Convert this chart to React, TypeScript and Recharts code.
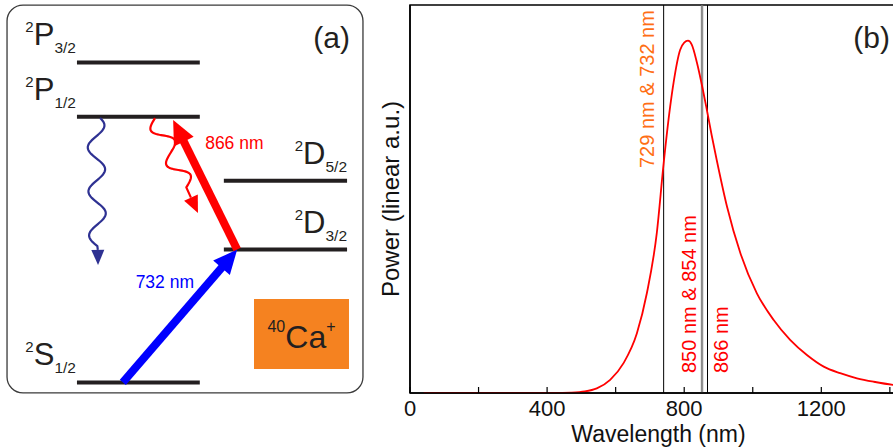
import { ComposedChart, Line, LineChart, ReferenceArea, ReferenceLine, XAxis, YAxis } from "recharts";

const FONT = '"Liberation Sans", Arial, Helvetica, sans-serif';
const INK = "#231F20";

// ---------- (a) level scheme of 40Ca+, schematic energy units ----------
const levelLetters = ["S", "D", "D", "P", "P"];
const levelJ = ["1/2", "3/2", "5/2", "1/2", "3/2"];
const levelEnergy = [0.05, 4.2, 6.35, 8.35, 10.05];
const levelColumn = ["left", "right", "right", "left", "left"];

// laser drives (thick arrows)
const laserLabels = ["732 nm", "866 nm"];
const laserFrom = [[3.32, 0.05], [6.41, 4.2]];
const laserTo = [[6.41, 4.2], [4.68, 8.25]];

// spontaneous decays (wavy arrows)
const decayFrom = [[2.59, 8.31], [4.19, 8.31]];
const decayTo = [[2.65, 3.72], [5.35, 5.34]];

// ---------- (b) spectrum ----------
const wavelength = [40, 150, 300, 420, 470, 510, 545, 584, 623, 662, 691, 720, 740, 759, 769, 788, 800, 811, 822, 837, 853, 866, 880, 895, 925, 964, 1012, 1061, 1109, 1158, 1207, 1255, 1304, 1353, 1410, 1450];
const power = [0, 0, 0, 0, 0.001, 0.004, 0.012, 0.034, 0.077, 0.154, 0.257, 0.412, 0.592, 0.738, 0.8, 0.884, 0.903, 0.908, 0.898, 0.852, 0.788, 0.73, 0.665, 0.6, 0.48, 0.36, 0.257, 0.188, 0.137, 0.098, 0.068, 0.051, 0.038, 0.029, 0.021, 0.018];
const xTicks = [0, 200, 400, 600, 800, 1000, 1200, 1400];
const markerNm = [740, 850, 854, 868];
const markerLabels = ["729 nm & 732 nm", "850 nm & 854 nm", "", "866 nm"];

const spectrum = wavelength.map((wl, i) => ({ wl, power: power[i] }));
const levelRows = levelEnergy.map((e, i) => ({ x: levelColumn[i] === "left" ? 3.7 : 7.7, e }));

const columnSpan: Record<string, [number, number]> = { left: [2.08, 5.4], right: [6.05, 9.38] };
const laserColors = ["#0000FF", "#FF0000"];
const laserText = [
  { dx: 14, dy: -28, anchor: "end" },
  { dx: 0, dy: -36, anchor: "start" },
];
const decayStyle = [
  { color: "#2E3192", amp: 8.5, period: 44, wave: 128.3, phase: Math.PI / 6, head: 15, hw: 6.5 },
  { color: "#FF0000", amp: 9, period: 38, wave: 76, phase: Math.PI, head: 17, hw: 7.5 },
];

const unit = (x1: number, y1: number, x2: number, y2: number) => {
  const L = Math.hypot(x2 - x1, y2 - y1);
  return { L, ux: (x2 - x1) / L, uy: (y2 - y1) / L };
};

const levelShape = (i: number) => (p: any) => {
  const { x1, y1, x2 } = p;
  const right = levelColumn[i] === "right";
  const tx = right ? Math.max(x1, x2) : Math.min(x1, x2) - 1;
  return (
    <g>
      <line x1={x1} y1={y1} x2={x2} y2={y1} stroke={INK} strokeWidth={4} />
      <text x={tx} y={y1 - 17} textAnchor="end" fill={INK}>
        <tspan fontSize={15} dy={-13}>2</tspan>
        <tspan fontSize={31} dy={13}>{levelLetters[i]}</tspan>
        <tspan fontSize={15.5} dy={8}>{levelJ[i]}</tspan>
      </text>
    </g>
  );
};

const laserShape = (i: number) => (p: any) => {
  const { x1, y1, x2, y2 } = p;
  const { ux, uy } = unit(x1, y1, x2, y2);
  const nx = uy, ny = -ux;
  const head = 24, hw = 11;
  const bx = x2 - ux * head, by = y2 - uy * head;
  const t = laserText[i];
  return (
    <g>
      <line x1={x1} y1={y1} x2={bx + ux} y2={by + uy} stroke={laserColors[i]} strokeWidth={8} />
      <polygon points={`${x2},${y2} ${bx + nx * hw},${by + ny * hw} ${bx - nx * hw},${by - ny * hw}`} fill={laserColors[i]} />
      <text x={(x1 + x2) / 2 + t.dx} y={(y1 + y2) / 2 + t.dy} textAnchor={t.anchor as any} fill={laserColors[i]} fontSize={17.5}>
        {laserLabels[i]}
      </text>
    </g>
  );
};

const decayShape = (i: number) => (p: any) => {
  const { x1, y1, x2, y2 } = p;
  const s = decayStyle[i];
  const { ux, uy } = unit(x1, y1, x2, y2);
  const nx = uy, ny = -ux;
  let d = "";
  for (let k = 0; k <= s.wave; k += 1) {
    const o = s.amp * Math.sin((2 * Math.PI * k) / s.period + s.phase);
    d += `${k === 0 ? "M" : "L"}${(x1 + ux * k + nx * o).toFixed(2)},${(y1 + uy * k + ny * o).toFixed(2)}`;
  }
  const bx = x2 - ux * s.head, by = y2 - uy * s.head;
  d += `L${bx.toFixed(2)},${by.toFixed(2)}`;
  return (
    <g>
      <path d={d} fill="none" stroke={s.color} strokeWidth={2.2} strokeLinejoin="round" />
      <polygon points={`${x2},${y2} ${bx + nx * s.hw},${by + ny * s.hw} ${bx - nx * s.hw},${by - ny * s.hw}`} fill={s.color} />
    </g>
  );
};

const frameA = (p: any) => (
  <g>
    <rect x={p.x} y={p.y} width={p.width} height={p.height} rx={16} fill="#fff" stroke="#3a3a3a" strokeWidth={1.3} />
    <text x={p.x + p.width - 13} y={p.y + 43} textAnchor="end" fontSize={30} fill={INK}>(a)</text>
  </g>
);

const ionBox = (p: any) => (
  <g>
    <rect x={p.x} y={p.y} width={p.width} height={p.height} fill="#F58220" />
    <text x={p.x + p.width / 2} y={p.y + p.height / 2 + 14} textAnchor="middle" fill={INK}>
      <tspan fontSize={16} dy={-16}>40</tspan>
      <tspan fontSize={32} dy={16}>Ca</tspan>
      <tspan fontSize={16} dy={-16}>+</tspan>
    </text>
  </g>
);

const frameB = (p: any) => (
  <g>
    <rect x={p.x} y={p.y} width={p.width} height={p.height} fill="none" stroke="#000" strokeWidth={1.5} />
    <text x={p.x + p.width - 17} y={p.y + 43} textAnchor="end" fontSize={30} fill={INK}>(b)</text>
  </g>
);

const WaveTick = (props: any) => {
  const { x, y, payload } = props;
  return (
    <g>
      <line x1={x} y1={y} x2={x} y2={y - 6} stroke="#000" strokeWidth={1.2} />
      {payload.value % 400 === 0 && (
        <text x={x} y={y + 23} textAnchor="middle" fontSize={22} fill="#111">
          {payload.value}
        </text>
      )}
    </g>
  );
};

const markerStyle = [
  { stroke: "#000", width: 1, color: "#FF6E14", dx: -10, fromTop: 163 },
  { stroke: "#777", width: 1, color: "#FF0000", dx: -5, fromTop: null },
  { stroke: "#777", width: 1, color: "#FF0000", dx: 0, fromTop: null },
  { stroke: "#000", width: 1, color: "#FF0000", dx: 20, fromTop: null },
];

const markerLabel = (i: number) => ({ viewBox }: any) => {
  const m = markerStyle[i];
  if (!markerLabels[i]) return null;
  const x = viewBox.x + m.dx;
  const y = m.fromTop !== null ? viewBox.y + m.fromTop : viewBox.y + viewBox.height - 20;
  return (
    <text transform={`translate(${x},${y}) rotate(-90)`} textAnchor="start" fontSize={20} fill={m.color}>
      {markerLabels[i]}
    </text>
  );
};

export default function App() {
  return (
    <div style={{ position: "absolute", left: 0, top: 0, width: 893, height: 448, overflow: "hidden", background: "#fff", fontFamily: FONT }}>
      <div style={{ position: "absolute", left: 0, top: 0 }}>
        <ComposedChart width={370} height={448} data={levelRows} margin={{ top: 0, right: 0, bottom: 0, left: 0 }}>
          <XAxis type="number" dataKey="x" domain={[0, 10]} hide allowDataOverflow />
          <YAxis type="number" dataKey="e" domain={[-2, 12]} hide allowDataOverflow />
          <ReferenceArea x1={0.19} x2={9.81} y1={-0.28} y2={11.84} shape={frameA} />
          <ReferenceArea x1={6.865} x2={9.432} y1={0.469} y2={2.656} shape={ionBox} />
          {levelEnergy.map((e, i) => (
            <ReferenceLine
              key={`lv${i}`}
              segment={[
                { x: columnSpan[levelColumn[i]][0], y: e },
                { x: columnSpan[levelColumn[i]][1], y: e },
              ]}
              shape={levelShape(i)}
            />
          ))}
          {decayFrom.map((f, i) => (
            <ReferenceLine
              key={`dc${i}`}
              segment={[
                { x: f[0], y: f[1] },
                { x: decayTo[i][0], y: decayTo[i][1] },
              ]}
              shape={decayShape(i)}
            />
          ))}
          {laserFrom.map((f, i) => (
            <ReferenceLine
              key={`ls${i}`}
              segment={[
                { x: f[0], y: f[1] },
                { x: laserTo[i][0], y: laserTo[i][1] },
              ]}
              shape={laserShape(i)}
            />
          ))}
        </ComposedChart>
      </div>
      <div style={{ position: "absolute", left: 370, top: 0 }}>
        <LineChart width={542} height={448} data={spectrum} margin={{ top: 5, right: 5, bottom: 0, left: 0 }}>
          <XAxis
            type="number"
            dataKey="wl"
            domain={[0, 1450]}
            allowDataOverflow
            ticks={xTicks}
            interval={0}
            tick={<WaveTick />}
            tickLine={false}
            tickSize={0}
            tickMargin={0}
            height={55}
            axisLine={{ stroke: "#000", strokeWidth: 1.5 }}
            label={({ viewBox }: any) => (
              <text x={viewBox.x + viewBox.width / 2} y={viewBox.y + 49} textAnchor="middle" fontSize={23} fill="#111">
                Wavelength (nm)
              </text>
            )}
          />
          <YAxis
            type="number"
            domain={[0, 1]}
            allowDataOverflow
            tick={false}
            tickLine={false}
            width={40}
            axisLine={{ stroke: "#000", strokeWidth: 1.5 }}
            label={({ viewBox }: any) => (
              <text
                transform={`translate(${viewBox.x + 28.5},${viewBox.y + viewBox.height / 2}) rotate(-90)`}
                textAnchor="middle"
                fontSize={24}
                fill="#111"
              >
                Power (linear a.u.)
              </text>
            )}
          />
          <ReferenceArea x1={0} x2={1450} y1={0} y2={1} shape={frameB} />
          {markerNm.map((nm, i) => (
            <ReferenceLine
              key={`mk${i}`}
              x={nm}
              stroke={markerStyle[i].stroke}
              strokeWidth={markerStyle[i].width}
              label={markerLabel(i)}
            />
          ))}
          <Line type="monotone" dataKey="power" stroke="#FF0000" strokeWidth={1.8} dot={false} isAnimationActive={false} />
        </LineChart>
      </div>
    </div>
  );
}
